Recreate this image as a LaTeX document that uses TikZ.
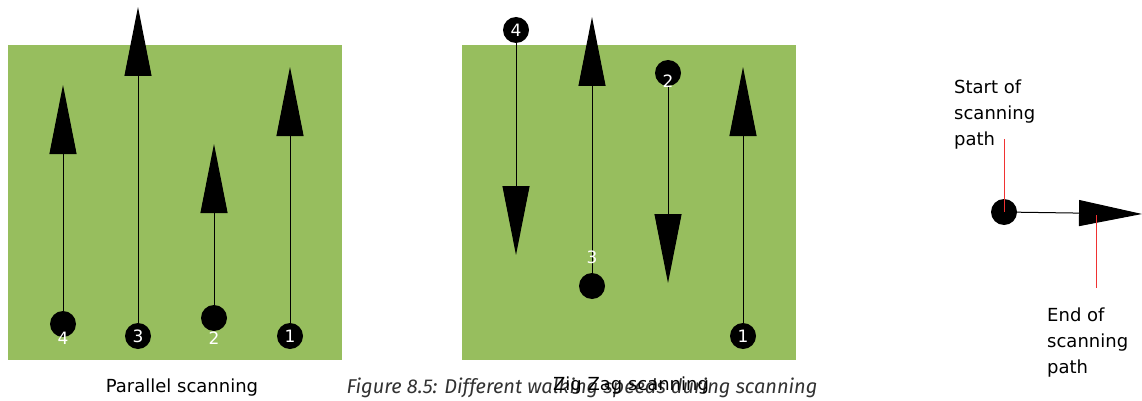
\documentclass[tikz,border=0pt]{standalone}
\usepackage{fontspec}
\setmainfont{DejaVu Sans}
\newfontfamily\captionfont{Fira Sans}
\usetikzlibrary{arrows.meta}
\definecolor{FieldGreen}{RGB}{151, 190, 94}
\definecolor{CaptionGrey}{RGB}{50, 50, 50}
\definecolor{PointerRed}{RGB}{240, 50, 50}

\tikzset{
  pointdot/.style={circle, fill=black, minimum size=26pt, inner sep=0pt},
  digit/.style={text=white, inner sep=0pt, font=\fontsize{17}{17}\selectfont},
  walk/.style={line width=1pt, -{Triangle[length=69pt, width=27pt]}},
  pointer/.style={PointerRed, line width=0.9pt},
  note/.style={align=left, inner sep=0pt, anchor=west, font=\fontsize{18}{26}\selectfont},
}

\begin{document}
\begin{tikzpicture}[x=1pt, y=-1pt]
    \useasboundingbox (0,0) rectangle (1142,401);

    % Fields
    \fill[FieldGreen] (8,45) rectangle (342,360);
    \fill[FieldGreen] (462,45) rectangle (796,360);

    % Parallel scanning
    \foreach \n/\x/\y/\t in {4/63/324/85, 3/138/336/7, 2/214/318/144, 1/290/336/67} {
      \node[pointdot] (pa\n) at (\x,\y) {};
      \coordinate (pt\n) at (\x,\t);
      \draw[walk] (pa\n) -- (pt\n);
    }
    \foreach \n/\x/\y in {4/63/338, 3/138/336, 2/214/338, 1/290/336} {
      \node[digit] (pl\n) at (\x,\y) {\n};
    }

    % Zig Zag scanning
    \foreach \n/\x/\y/\t in {4/516/30/255, 3/592/286/17, 2/668/73/283, 1/743/336/67} {
      \node[pointdot] (zz\n) at (\x,\y) {};
      \coordinate (zt\n) at (\x,\t);
      \draw[walk] (zz\n) -- (zt\n);
    }
    \foreach \n/\x/\y in {4/516/30, 3/592/257, 2/668/81, 1/743/336} {
      \node[digit] (zl\n) at (\x,\y) {\n};
    }

    % Legend
    \node[pointdot] (start) at (1004,212) {};
    \coordinate (endtip) at (1142,214);
    \draw[line width=1pt, -{Triangle[length=63pt, width=26pt]}] (start) -- (endtip);

    \node[note] (startnote) at (954,115) {Start of\\scanning\\path};
    \coordinate (startfoot) at (1004,139);
    \draw[pointer] (startfoot) -- (start.center);

    \node[note] (endnote) at (1047,343) {End of\\scanning\\path};
    \coordinate (endhead) at (1096,215);
    \coordinate (endfoot) at (1096,288);
    \draw[pointer] (endhead) -- (endfoot);

    % Captions
    \node[font=\fontsize{18}{18}\selectfont] (parcap) at (182,388) {Parallel scanning};
    \node[font=\captionfont\itshape\fontsize{20}{20}\selectfont, text=CaptionGrey] (figcap) at (582,388) {Figure 8.5: Different walking speeds during scanning};
    \node[font=\fontsize{18}{18}\selectfont] (zigcap) at (631,386) {Zig Zag scanning};
  \end{tikzpicture}
\end{document}
